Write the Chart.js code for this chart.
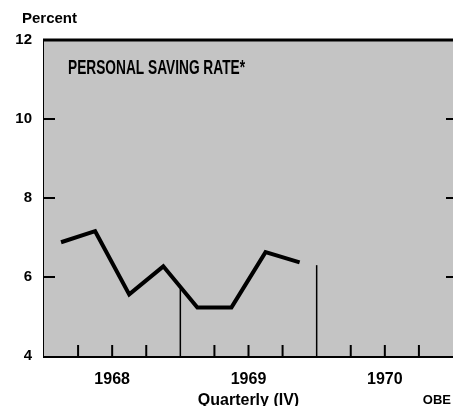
<!DOCTYPE html>
<html>
<head>
<meta charset="utf-8">
<script src="https://cdn.jsdelivr.net/npm/chart.js@4.4.0/dist/chart.umd.min.js"></script>
<style>
  body { margin: 0; background: #fff; }
  #chart { display: block; }
</style>
</head>
<body>
<canvas id="chart" width="453" height="406"></canvas>
<script>
// quarterly values
const quarters = ['1968 I', '1968 II', '1968 III', '1968 IV', '1969 I', '1969 II', '1969 III', '1969 IV'];
const savingRate = [6.88, 7.16, 5.56, 6.27, 5.23, 5.23, 6.63, 6.37];
const years = ['1968', '1969', '1970'];
// vertical marks at the end of each year (x in quarters) and how high they go
const yearEnds = [4, 8];
const dividerTops = [5.7, 6.3];
const yTicks = [4, 6, 8, 10, 12];

const FONT = '"Liberation Sans", Arial, sans-serif';

const lineData = savingRate.map((v, i) => ({ x: i + 0.5, y: v }));
const dividerSets = yearEnds.map((q, i) => ({
  data: [{ x: q, y: yTicks[0] }, { x: q, y: dividerTops[i] }],
  borderColor: '#000',
  borderWidth: 1.5,
  pointRadius: 0,
  tension: 0
}));

const decor = {
  id: 'decor',
  beforeDatasetsDraw(chart) {
    const { ctx, chartArea: a } = chart;
    ctx.save();
    ctx.fillStyle = '#c4c4c4';
    ctx.fillRect(a.left, a.top, a.right - a.left, a.bottom - a.top);
    ctx.restore();
  },
  afterDraw(chart) {
    const { ctx, chartArea: a, scales } = chart;
    const x = scales.x, y = scales.y;
    ctx.save();
    ctx.strokeStyle = '#000';
    // top frame line
    ctx.lineWidth = 3;
    ctx.beginPath();
    ctx.moveTo(a.left - 1, a.top);
    ctx.lineTo(a.right, a.top);
    ctx.stroke();
    // quarter ticks along the bottom
    ctx.lineWidth = 2;
    for (let q = 1; q < 12; q++) {
      if (yearEnds.includes(q)) continue;
      const px = x.getPixelForValue(q);
      ctx.beginPath();
      ctx.moveTo(px, a.bottom);
      ctx.lineTo(px, a.bottom - 11);
      ctx.stroke();
    }
    // inner ticks on both sides
    yTicks.slice(1, -1).forEach(v => {
      const py = y.getPixelForValue(v);
      ctx.beginPath();
      ctx.moveTo(a.left, py);
      ctx.lineTo(a.left + 11, py);
      ctx.moveTo(a.right - 7, py);
      ctx.lineTo(a.right, py);
      ctx.stroke();
    });

    ctx.fillStyle = '#000';
    ctx.textBaseline = 'alphabetic';
    ctx.font = 'bold 15px ' + FONT;
    ctx.textAlign = 'left';
    ctx.fillText('Percent', 22, 23);
    ctx.font = 'bold 13px ' + FONT;
    ctx.textAlign = 'right';
    ctx.fillText('OBE', 451, 404);

    // narrow title inside the plot
    const title = 'PERSONAL SAVING RATE*';
    ctx.font = 'bold 20px "Liberation Sans Narrow", ' + FONT;
    ctx.textAlign = 'left';
    const w = ctx.measureText(title).width;
    ctx.translate(68, 74);
    ctx.scale(177 / w, 1);
    ctx.fillText(title, 0, 0);
    ctx.restore();
  }
};

new Chart(document.getElementById('chart'), {
  type: 'line',
  data: {
    datasets: [{
      label: 'Personal saving rate',
      data: lineData,
      borderColor: '#000',
      borderWidth: 4,
      borderJoinStyle: 'miter',
      pointRadius: 0,
      tension: 0
    }, ...dividerSets]
  },
  options: {
    responsive: false,
    animation: false,
    devicePixelRatio: 1,
    layout: { padding: { top: 40, right: 0, left: 0, bottom: 0 } },
    plugins: { legend: { display: false }, tooltip: { enabled: false } },
    scales: {
      x: {
        type: 'linear',
        min: 0,
        max: 12,
        afterFit(s) { s.height = 50; },
        afterBuildTicks(s) { s.ticks = years.map((_, i) => ({ value: i * 4 + 2 })); },
        ticks: {
          autoSkip: false,
          maxRotation: 0,
          padding: 14,
          color: '#000',
          font: { family: FONT, size: 16, weight: 'bold' },
          callback: v => years[(v - 2) / 4]
        },
        grid: { drawOnChartArea: false, drawTicks: false },
        border: { color: '#000', width: 3 },
        title: {
          display: true,
          text: 'Quarterly (IV)',
          color: '#000',
          font: { family: FONT, size: 16, weight: 'bold' },
          padding: { top: 0, bottom: -4 }
        }
      },
      y: {
        min: 4,
        max: 12,
        afterFit(s) { s.width = 44; },
        afterBuildTicks(s) { s.ticks = yTicks.map(v => ({ value: v })); },
        ticks: {
          padding: 12,
          color: '#000',
          font: { family: FONT, size: 15, weight: 'bold' }
        },
        grid: { drawOnChartArea: false, drawTicks: false },
        border: { color: '#000', width: 3 }
      }
    }
  },
  plugins: [decor]
});
</script>
</body>
</html>
